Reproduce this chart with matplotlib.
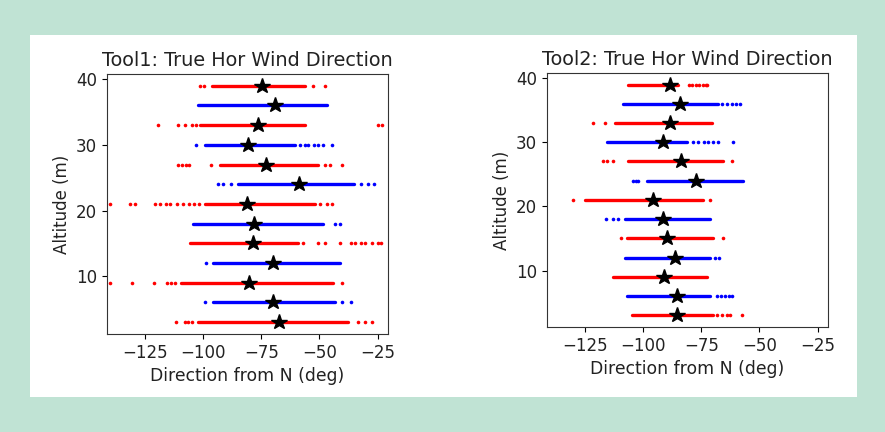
import matplotlib
matplotlib.use('Agg')
import matplotlib.pyplot as plt
from matplotlib.patches import Rectangle

# altitudes of the 13 sample rows (m), red/blue alternate from the bottom
alt = [3, 6, 9, 12, 15, 18, 21, 24, 27, 30, 33, 36, 39]

# Tool1: mean direction (stars), dense core extent, sparse outlying samples
tool1_mean = [-67.2, -69.8, -80.2, -69.8, -78.4, -78.0, -81.2, -58.9, -72.8, -80.6, -76.3, -69.0, -74.7]
tool1_lo = [-102.2, -95.7, -109.5, -95.7, -105.6, -104.3, -99.1, -84.9, -92.7, -99.1, -101.3, -102.2, -96.1]
tool1_hi = [-37.5, -43.1, -44.0, -41.0, -59.1, -48.3, -51.7, -35.3, -50.4, -60.3, -56.0, -46.6, -56.0]
tool1_sparse = [
    [-111.6, -107.8, -106.5, -104.7, -33.2, -30.2, -27.2],
    [-99.1, -40.1, -36.2],
    [-140.1, -130.6, -121.1, -115.5, -113.8, -112.0, -40.1],
    [-98.8],
    [-56.9, -50.4, -47.4, -41.0, -36.6, -34.5, -32.3, -30.2, -27.2, -25.0, -23.3],
    [-43.5, -41.0],
    [-140.0, -131.5, -129.3, -120.7, -118.5, -116.0, -114.2, -111.2, -108.5, -106.0,
     -104.0, -102.0, -49.6, -46.6, -44.4],
    [-93.5, -91.4, -87.9, -32.3, -29.3, -26.7],
    [-110.9, -109.2, -107.5, -106.0, -96.6, -47.4, -45.3, -40.2],
    [-103.2, -58.2, -56.0, -54.7, -52.5, -50.4, -48.3, -44.4],
    [-119.4, -110.9, -107.8, -104.7, -103.0, -25.0, -23.0],
    [],
    [-101.3, -99.6, -52.6, -47.8],
]

# Tool2
tool2_mean = [-85.3, -85.3, -91.0, -86.2, -89.7, -91.4, -95.7, -77.2, -83.6, -91.4, -88.4, -84.1, -88.4]
tool2_lo = [-104.7, -106.9, -112.9, -107.8, -106.9, -107.8, -125.0, -98.3, -106.5, -115.5, -112.1, -108.6, -106.5]
tool2_hi = [-69.8, -71.1, -72.4, -71.1, -69.8, -71.1, -74.1, -56.9, -65.5, -81.0, -70.3, -67.7, -84.9]
tool2_sparse = [
    [-68.1, -66.0, -64.0, -62.5, -57.3],
    [-68.1, -66.5, -65.0, -63.2, -61.6],
    [],
    [-69.0, -67.2],
    [-109.5, -65.5],
    [-116.0, -112.9, -110.8],
    [-130.2, -71.1],
    [-104.3, -103.2, -102.2],
    [-117.2, -115.5, -112.9, -61.6],
    [-78.4, -76.5, -74.0, -72.0, -70.0, -68.0, -61.2],
    [-121.6, -116.4],
    [-66.0, -64.0, -62.0, -60.0, -58.2],
    [-80.2, -79.0, -77.5, -76.0, -74.5, -73.2, -72.4],
]

row_colors = ['red', 'blue']

plt.rcParams['font.size'] = 12
plt.rcParams['text.color'] = '#222222'
plt.rcParams['axes.labelcolor'] = '#222222'
plt.rcParams['xtick.labelcolor'] = '#222222'
plt.rcParams['ytick.labelcolor'] = '#222222'

fig = plt.figure(figsize=(8.85, 4.32), dpi=100, facecolor='#c0e3d4')
panel = Rectangle((0.0339, 0.081), 0.9345, 0.838, transform=fig.transFigure,
                  facecolor='white', edgecolor='none', zorder=-10)
fig.add_artist(panel)

ax1 = fig.add_axes([0.1209, 0.2269, 0.3175, 0.6019])
ax2 = fig.add_axes([0.6181, 0.2431, 0.3175, 0.5880])


def draw(ax, mean, lo, hi, sparse, title):
    for i, y in enumerate(alt):
        c = row_colors[i % 2]
        ax.hlines(y, lo[i], hi[i], color=c, lw=2.4, capstyle='round', zorder=2)
        if sparse[i]:
            ax.plot(sparse[i], [y] * len(sparse[i]), 'o', color=c, ms=2.6, mew=0, zorder=2)
    ax.plot(mean, alt, '*', color='black', ms=11.5, zorder=3)
    ax.set_xlim(-141.4, -20.5)
    ax.set_ylim(1.2, 40.8)
    ax.set_xticks([-125, -100, -75, -50, -25])
    ax.set_yticks([10, 20, 30, 40])
    ax.set_title(title, fontsize=13.9)
    ax.set_xlabel('Direction from N (deg)', fontsize=12.4)
    ax.set_ylabel('Altitude (m)')
    for s in ax.spines.values():
        s.set_color('#333333')


draw(ax1, tool1_mean, tool1_lo, tool1_hi, tool1_sparse, 'Tool1: True Hor Wind Direction')
draw(ax2, tool2_mean, tool2_lo, tool2_hi, tool2_sparse, 'Tool2: True Hor Wind Direction')

fig.savefig('out.png', dpi=100, facecolor=fig.get_facecolor())
